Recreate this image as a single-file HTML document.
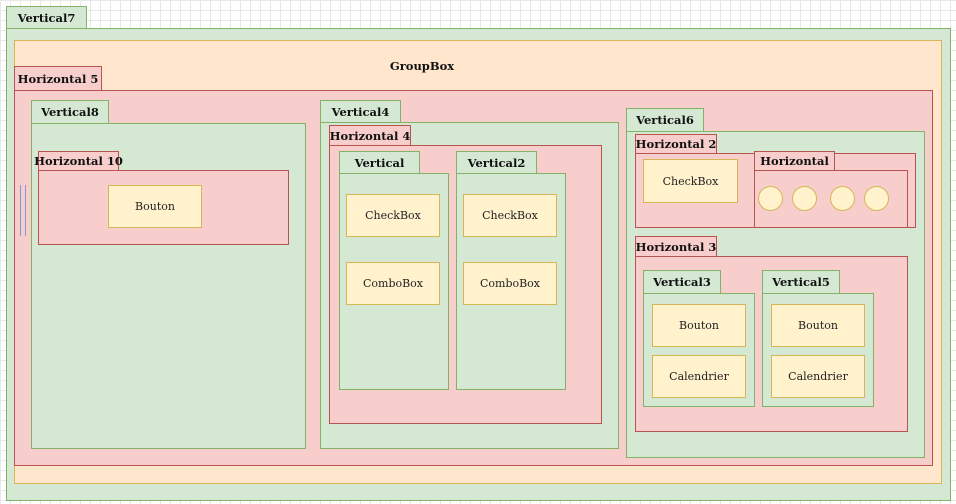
<!DOCTYPE html>
<html><head><meta charset="utf-8"><style>
body{margin:0;width:956px;height:504px;overflow:hidden;position:relative;background-color:#fff;
background-image:linear-gradient(#e8e8e8 1px,transparent 1px),linear-gradient(90deg,#e8e8e8 1px,transparent 1px);background-size:10px 10px;
font-family:"DejaVu Serif","Liberation Serif",serif;}
div{position:absolute;box-sizing:border-box;}
.g{background:#d5e8d4;border:1px solid #82b366;}
.r{background:#f8cecc;border:1px solid #b85450;}
.o{background:#ffe6cc;border:1px solid #d6b656;}
.y{background:#fff2cc;border:1px solid #d6b656;font-size:11px;color:#222;display:flex;align-items:center;justify-content:center;}
.t{font-size:11.5px;font-weight:bold;color:#111;display:flex;align-items:center;justify-content:center;white-space:nowrap;}
.c{background:#fff2cc;border:1px solid #d6b656;border-radius:50%;width:25px;height:25px;}
.bl{background:#7e9ad0;width:1px;}
</style></head><body>
<div class="g t" style="left:6px;top:6px;width:81px;height:23px">Vertical7</div>
<div class="g" style="left:6px;top:28px;width:945px;height:473px"></div>
<div class="o" style="left:14px;top:40px;width:928px;height:444px"></div>
<div class="t" style="left:372px;top:58px;width:100px;height:16px">GroupBox</div>
<div class="r t" style="left:14px;top:66px;width:88px;height:25px">Horizontal 5</div>
<div class="r" style="left:14px;top:90px;width:919px;height:376px"></div>
<div class="bl" style="left:20px;top:185px;height:51px"></div>
<div class="bl" style="left:25px;top:185px;height:51px"></div>

<div class="g t" style="left:31px;top:100px;width:78px;height:24px">Vertical8</div>
<div class="g" style="left:31px;top:123px;width:275px;height:326px"></div>
<div class="r t" style="left:38px;top:151px;width:81px;height:20px">Horizontal 10</div>
<div class="r" style="left:38px;top:170px;width:251px;height:75px"></div>
<div class="y" style="left:108px;top:185px;width:94px;height:43px">Bouton</div>

<div class="g t" style="left:320px;top:100px;width:81px;height:23px">Vertical4</div>
<div class="g" style="left:320px;top:122px;width:299px;height:327px"></div>
<div class="r t" style="left:329px;top:125px;width:82px;height:21px">Horizontal 4</div>
<div class="r" style="left:329px;top:145px;width:273px;height:279px"></div>
<div class="g t" style="left:339px;top:151px;width:81px;height:23px">Vertical</div>
<div class="g" style="left:339px;top:173px;width:110px;height:217px"></div>
<div class="y" style="left:346px;top:194px;width:94px;height:43px">CheckBox</div>
<div class="y" style="left:346px;top:262px;width:94px;height:43px">ComboBox</div>
<div class="g t" style="left:456px;top:151px;width:81px;height:23px">Vertical2</div>
<div class="g" style="left:456px;top:173px;width:110px;height:217px"></div>
<div class="y" style="left:463px;top:194px;width:94px;height:43px">CheckBox</div>
<div class="y" style="left:463px;top:262px;width:94px;height:43px">ComboBox</div>

<div class="g t" style="left:626px;top:108px;width:78px;height:24px">Vertical6</div>
<div class="g" style="left:626px;top:131px;width:299px;height:327px"></div>
<div class="r t" style="left:635px;top:134px;width:82px;height:20px">Horizontal 2</div>
<div class="r" style="left:635px;top:153px;width:281px;height:75px"></div>
<div class="y" style="left:643px;top:159px;width:95px;height:44px">CheckBox</div>
<div class="r t" style="left:754px;top:151px;width:81px;height:20px">Horizontal</div>
<div class="r" style="left:754px;top:170px;width:154px;height:58px"></div>
<div class="c" style="left:758px;top:186px"></div>
<div class="c" style="left:792px;top:186px"></div>
<div class="c" style="left:830px;top:186px"></div>
<div class="c" style="left:864px;top:186px"></div>
<div class="r t" style="left:635px;top:236px;width:82px;height:21px">Horizontal 3</div>
<div class="r" style="left:635px;top:256px;width:273px;height:176px"></div>
<div class="g t" style="left:643px;top:270px;width:78px;height:24px">Vertical3</div>
<div class="g" style="left:643px;top:293px;width:112px;height:114px"></div>
<div class="y" style="left:652px;top:304px;width:94px;height:43px">Bouton</div>
<div class="y" style="left:652px;top:355px;width:94px;height:43px">Calendrier</div>
<div class="g t" style="left:762px;top:270px;width:78px;height:24px">Vertical5</div>
<div class="g" style="left:762px;top:293px;width:112px;height:114px"></div>
<div class="y" style="left:771px;top:304px;width:94px;height:43px">Bouton</div>
<div class="y" style="left:771px;top:355px;width:94px;height:43px">Calendrier</div>
</body></html>
